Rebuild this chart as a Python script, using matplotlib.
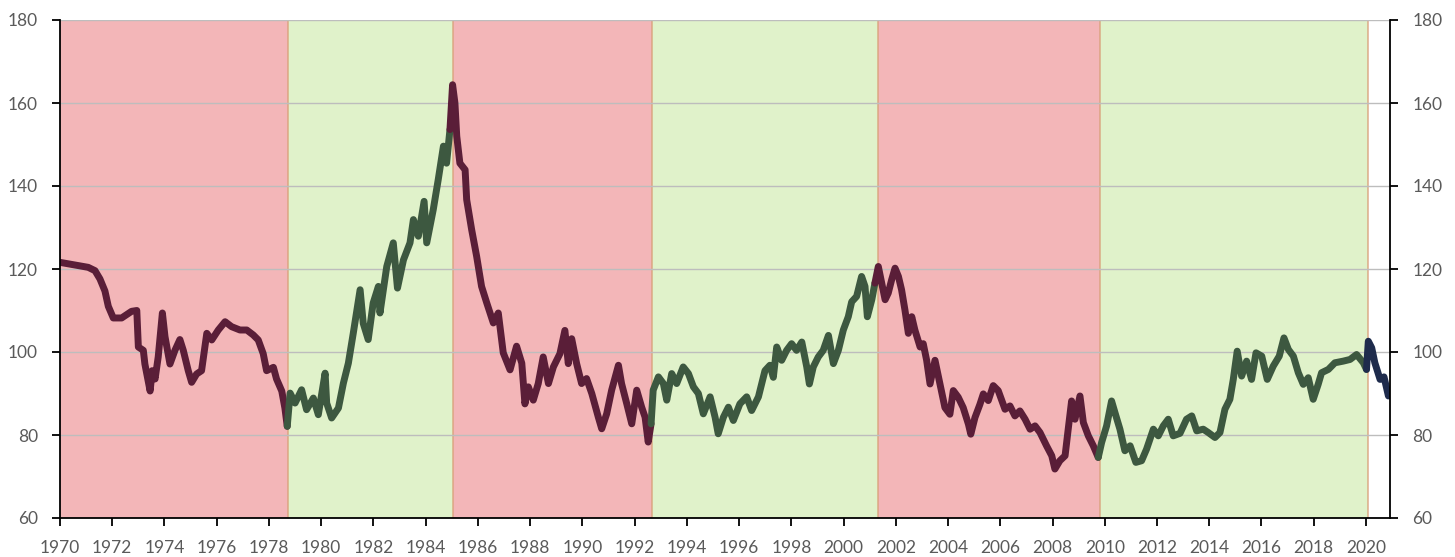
import matplotlib
matplotlib.use("Agg")
import matplotlib.pyplot as plt
import numpy as np

# Series: (decimal year, index value)
years = [
    1970.00, 1971.08, 1971.34, 1971.53, 1971.72, 1971.85, 1972.04, 1972.36, 1972.74, 1972.94,
    1973.00, 1973.19, 1973.25, 1973.45, 1973.53, 1973.64, 1973.76, 1973.92, 1974.02, 1974.21,
    1974.40, 1974.59, 1974.72, 1974.91, 1975.04, 1975.23, 1975.42, 1975.62, 1975.81, 1976.06,
    1976.32, 1976.57, 1976.89, 1977.15, 1977.40, 1977.59, 1977.78, 1977.91, 1978.17, 1978.29,
    1978.49, 1978.61, 1978.70, 1978.81, 1979.00, 1979.25, 1979.44, 1979.70, 1979.89, 1980.15,
    1980.21, 1980.40, 1980.66, 1980.85, 1981.04, 1981.23, 1981.49, 1981.61, 1981.80, 1981.99,
    1982.19, 1982.25, 1982.51, 1982.76, 1982.92, 1983.15, 1983.40, 1983.53, 1983.72, 1983.94,
    1984.04, 1984.29, 1984.48, 1984.68, 1984.80, 1984.93, 1985.03, 1985.12, 1985.19, 1985.31,
    1985.51, 1985.57, 1985.76, 1985.95, 1986.14, 1986.34, 1986.59, 1986.78, 1986.97, 1987.23,
    1987.48, 1987.68, 1987.80, 1987.93, 1988.12, 1988.31, 1988.50, 1988.70, 1988.89, 1989.14,
    1989.33, 1989.46, 1989.59, 1989.78, 1989.97, 1990.16, 1990.36, 1990.61, 1990.74, 1990.93,
    1991.12, 1991.38, 1991.50, 1991.70, 1991.89, 1992.08, 1992.27, 1992.40, 1992.52, 1992.63,
    1992.71, 1992.91, 1993.10, 1993.23, 1993.42, 1993.61, 1993.86, 1994.06, 1994.25, 1994.44,
    1994.63, 1994.89, 1995.08, 1995.20, 1995.40, 1995.59, 1995.78, 1996.03, 1996.29, 1996.48,
    1996.74, 1996.99, 1997.18, 1997.31, 1997.44, 1997.63, 1997.82, 1998.01, 1998.20, 1998.40,
    1998.59, 1998.69, 1998.84, 1999.03, 1999.22, 1999.42, 1999.61, 1999.80, 1999.99, 2000.18,
    2000.31, 2000.50, 2000.69, 2000.82, 2000.91, 2001.08, 2001.20, 2001.33, 2001.46, 2001.59,
    2001.71, 2001.84, 2001.97, 2002.10, 2002.22, 2002.35, 2002.48, 2002.61, 2002.73, 2002.93,
    2003.05, 2003.18, 2003.31, 2003.50, 2003.69, 2003.88, 2004.07, 2004.20, 2004.39, 2004.58,
    2004.78, 2004.87, 2005.03, 2005.22, 2005.35, 2005.54, 2005.73, 2005.92, 2006.18, 2006.37,
    2006.56, 2006.75, 2006.95, 2007.14, 2007.33, 2007.52, 2007.77, 2007.97, 2008.09, 2008.28,
    2008.48, 2008.60, 2008.73, 2008.86, 2009.05, 2009.18, 2009.37, 2009.56, 2009.75, 2009.88,
    2010.07, 2010.26, 2010.39, 2010.58, 2010.77, 2010.97, 2011.19, 2011.41, 2011.60, 2011.86,
    2012.05, 2012.24, 2012.43, 2012.62, 2012.88, 2013.13, 2013.33, 2013.52, 2013.77, 2013.96,
    2014.22, 2014.41, 2014.60, 2014.79, 2014.92, 2015.07, 2015.24, 2015.43, 2015.62, 2015.79,
    2016.01, 2016.22, 2016.45, 2016.68, 2016.86, 2017.03, 2017.22, 2017.41, 2017.60, 2017.79,
    2017.98, 2018.17, 2018.30, 2018.56, 2018.81, 2019.13, 2019.39, 2019.64, 2019.90, 2020.02,
    2020.09, 2020.22, 2020.34, 2020.54, 2020.69, 2020.86,
]
values = [
    121.6, 120.4, 119.6, 117.6, 114.7, 111.0, 108.2, 108.2, 109.8, 110.0,
    101.2, 100.4, 97.1, 90.6, 95.5, 93.5, 98.8, 109.4, 103.7, 97.1,
    100.4, 103.0, 100.4, 95.5, 92.7, 94.7, 95.5, 104.5, 102.9, 105.3,
    107.3, 106.1, 105.3, 105.3, 104.1, 102.9, 99.6, 95.5, 96.3, 93.5,
    90.6, 86.5, 82.1, 90.1, 87.7, 90.9, 86.1, 88.9, 84.9, 94.9,
    87.7, 84.1, 86.5, 92.5, 97.3, 104.6, 115.0, 106.9, 103.0, 111.8,
    115.8, 109.4, 120.6, 126.3, 115.4, 122.2, 126.3, 131.9, 127.9, 136.3,
    126.3, 134.3, 141.5, 149.6, 145.5, 153.6, 164.4, 160.0, 152.0, 145.5,
    143.9, 136.7, 129.5, 123.1, 115.8, 111.8, 107.0, 109.4, 99.8, 95.7,
    101.4, 97.3, 87.5, 91.6, 88.4, 92.4, 98.8, 92.4, 96.4, 99.6,
    105.2, 97.2, 103.2, 97.2, 92.4, 93.6, 90.0, 84.3, 81.5, 85.1,
    90.8, 96.8, 92.4, 87.5, 82.7, 90.8, 86.7, 84.3, 78.3, 82.7,
    90.8, 94.0, 92.4, 88.4, 94.8, 92.4, 96.4, 94.8, 91.6, 90.0,
    85.1, 89.2, 84.3, 80.3, 84.3, 86.7, 83.5, 87.5, 89.2, 85.9,
    89.2, 95.5, 96.8, 93.9, 101.2, 98.0, 100.4, 102.0, 100.4, 102.4,
    96.4, 92.3, 96.4, 98.8, 100.4, 104.0, 97.2, 100.4, 105.3, 108.5,
    112.1, 113.4, 118.2, 115.8, 108.5, 112.6, 116.6, 120.6, 116.6, 112.6,
    114.2, 117.4, 120.2, 118.2, 115.0, 110.1, 104.5, 108.5, 105.3, 101.2,
    102.0, 98.0, 92.3, 98.0, 92.3, 86.6, 85.0, 90.7, 89.1, 86.6,
    82.6, 80.2, 84.2, 87.4, 89.9, 88.3, 91.9, 90.7, 86.2, 87.0,
    84.6, 85.8, 83.8, 81.4, 82.2, 80.6, 77.4, 75.0, 71.8, 73.8,
    75.0, 81.4, 88.2, 83.8, 89.4, 83.0, 79.8, 77.4, 74.6, 78.2,
    82.2, 88.2, 85.4, 81.4, 76.2, 77.4, 73.4, 73.8, 76.6, 81.4,
    79.8, 82.2, 83.8, 79.8, 80.4, 83.8, 84.6, 81.0, 81.4, 80.6,
    79.4, 80.6, 86.2, 88.6, 93.4, 100.2, 94.2, 97.8, 93.4, 99.8,
    99.0, 93.4, 96.6, 99.0, 103.4, 100.6, 99.0, 95.0, 92.2, 93.8,
    88.6, 92.2, 95.0, 95.8, 97.4, 97.8, 98.2, 99.4, 97.4, 95.8,
    102.6, 101.0, 97.4, 93.4, 94.0, 89.4,
]

# Shaded regimes
regime_start = [1970.0, 1978.73, 1985.03, 1992.66, 2001.32, 2009.82]
regime_end = [1978.73, 1985.03, 1992.66, 2001.32, 2009.82, 2020.08]
regime_kind = ["down", "up", "down", "up", "down", "up"]

FILL = {"down": "#f3b6b8", "up": "#e0f2ca"}
LINE = {"down": "#5a1e38", "up": "#3d5840", "last": "#1e2b4c"}
TXT = "#5a5a5a"

plt.rcParams.update({"font.family": ["Lato", "DejaVu Sans"], "font.size": 12.5})

fig = plt.figure(figsize=(14.55, 5.57), dpi=100)
ax = fig.add_axes([60 / 1455, 1 - 518 / 557, 1330 / 1455, 498 / 557])

for s, e, k in zip(regime_start, regime_end, regime_kind):
    ax.axvspan(s, e, facecolor=FILL[k], edgecolor="none", zorder=0)
for b in regime_start[1:] + regime_end[-1:]:
    ax.axvline(b, color="#d9a07a", lw=1.2, alpha=0.8, zorder=0.5)

x = np.array(years)
y = np.array(values)

# colour the line by the regime each point falls in
bounds = regime_start + [regime_end[-1]]
kinds = regime_kind + ["last"]
for i, k in enumerate(kinds):
    lo = bounds[i]
    hi = bounds[i + 1] if i + 1 < len(bounds) else 2100
    idx = np.where((x >= lo) & (x < hi))[0]
    if len(idx) == 0:
        continue
    if idx[0] > 0:
        idx = np.r_[idx[0] - 1, idx]
    ax.plot(x[idx], y[idx], color=LINE[k], lw=5, solid_joinstyle="round",
            solid_capstyle="round", zorder=3)

ax.set_xlim(1970, 2020.92)
ax.set_ylim(60, 180)
ax.set_yticks(range(60, 181, 20))
ax.set_xticks(range(1970, 2021, 2))
ax.grid(axis="y", color="#bdbdbd", lw=1.0)
for gl in ax.get_ygridlines():
    gl.set_zorder(1)

ax.spines["top"].set_visible(False)
for side in ("left", "right", "bottom"):
    ax.spines[side].set_color("black")
    ax.spines[side].set_linewidth(1.3)
    ax.spines[side].set_zorder(4)

ax.tick_params(axis="y", which="both", left=True, right=True, labelleft=True,
               labelright=True, direction="out", length=6, width=1.3,
               colors="black", labelcolor=TXT, labelsize=12.5, pad=10)
ax.tick_params(axis="x", direction="out", length=6, width=1.3, colors="black",
               labelcolor=TXT, labelsize=12.5, pad=10)

fig.savefig("out.png", dpi=100, facecolor="white")
